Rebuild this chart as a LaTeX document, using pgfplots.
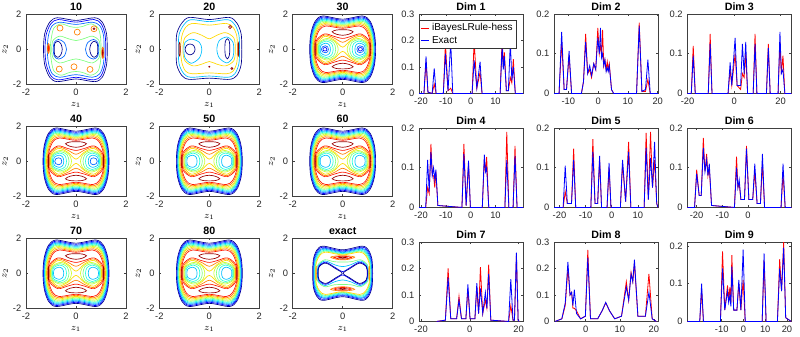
\documentclass[border=0pt]{standalone}
\usepackage{fontspec}
\setmainfont{Liberation Sans}
\usepackage{pgfplots}
\usepackage{pgfplotstable}
\pgfplotsset{compat=1.18}
\definecolor{c1}{rgb}{0,0,0.55}
\definecolor{c2}{rgb}{0,0,1}
\definecolor{c3}{rgb}{0,0.4,1}
\definecolor{c4}{rgb}{0,0.75,1}
\definecolor{c5}{rgb}{0.15,1,0.85}
\definecolor{c6}{rgb}{0.5,1,0.5}
\definecolor{c7}{rgb}{0.8,1,0.2}
\definecolor{c8}{rgb}{1,0.85,0}
\definecolor{c9}{rgb}{1,0.5,0}
\definecolor{c10}{rgb}{1,0.1,0}
\definecolor{c11}{rgb}{0.6,0,0}

\newcommand{\ring}[9]{\addplot[#1,smooth cycle] coordinates {(#2,0) (#3,#4) (#5,#6) (#7,#8) (0,#9) (-#7,#8) (-#5,#6) (-#3,#4) (-#2,0) (-#3,-#4) (-#5,-#6) (-#7,-#8) (0,-#9) (#7,-#8) (#5,-#6) (#3,-#4)};}
\newcommand{\lobes}[9]{\addplot[#1,smooth cycle] coordinates {(#2,0) (#3,#4) (#5,#6) (#7,#8) (#9,0) (#7,-#8) (#5,-#6) (#3,-#4)};
\addplot[#1,smooth cycle] coordinates {(-#2,0) (-#3,#4) (-#5,#6) (-#7,#8) (-#9,0) (-#7,-#8) (-#5,-#6) (-#3,-#4)};}

\newcommand{\ringpanel}{%
\ring{c1}{1.32}{1.27}{0.90}{1.10}{1.60}{0.80}{1.90}{1.72}
\ring{c2}{1.30}{1.25}{0.87}{1.08}{1.55}{0.79}{1.84}{1.66}
\ring{c3}{1.28}{1.23}{0.84}{1.07}{1.50}{0.78}{1.78}{1.60}
\ring{c4}{1.26}{1.21}{0.81}{1.05}{1.45}{0.77}{1.72}{1.54}
\ring{c5}{1.24}{1.19}{0.78}{1.03}{1.40}{0.76}{1.66}{1.48}
\ring{c6}{1.22}{1.17}{0.75}{1.02}{1.35}{0.75}{1.60}{1.42}
\ring{c7}{1.20}{1.15}{0.72}{1.00}{1.30}{0.74}{1.54}{1.37}
\ring{c8}{1.18}{1.13}{0.69}{0.98}{1.25}{0.72}{1.47}{1.32}
\ring{c9}{1.15}{1.10}{0.66}{0.95}{1.18}{0.70}{1.40}{1.26}
\ring{c10}{1.12}{1.07}{0.62}{0.92}{1.12}{0.67}{1.33}{1.20}
\ring{c10}{1.08}{1.04}{0.53}{0.72}{0.88}{0.35}{0.74}{0.62}
\ring{c9}{1.05}{1.01}{0.48}{0.71}{0.82}{0.34}{0.64}{0.40}
\ring{c8}{1.02}{0.98}{0.42}{0.70}{0.74}{0.33}{0.52}{0.12}
\lobes{c7}{1.00}{0.95}{0.40}{0.62}{0.62}{0.30}{0.42}{0.18}
\lobes{c6}{0.97}{0.93}{0.36}{0.63}{0.55}{0.36}{0.38}{0.28}
\lobes{c5}{0.94}{0.90}{0.31}{0.65}{0.47}{0.44}{0.32}{0.38}
\lobes{c4}{0.90}{0.86}{0.24}{0.67}{0.35}{0.53}{0.24}{0.49}
\addplot[c11,smooth cycle] coordinates {(0.42,1.0) (0.25,1.1) (0,1.12) (-0.25,1.1) (-0.42,1.0) (-0.25,0.86) (0,0.8) (0.25,0.86)};
\addplot[c11,smooth cycle] coordinates {(0.42,-1.0) (0.25,-1.1) (0,-1.12) (-0.25,-1.1) (-0.42,-1.0) (-0.25,-0.86) (0,-0.8) (0.25,-0.86)};
\addplot[c11,smooth cycle] coordinates {(1.11,0) (1.105,0.3) (1.10,0.38) (1.095,0.3) (1.09,0) (1.095,-0.3) (1.10,-0.38) (1.105,-0.3)};
\addplot[c11,smooth cycle] coordinates {(-1.11,0) (-1.105,0.3) (-1.10,0.38) (-1.095,0.3) (-1.09,0) (-1.095,-0.3) (-1.10,-0.38) (-1.105,-0.3)};
}

\pgfplotsset{
 every axis/.append style={scale only axis, tick align=inside, major tick length=1.6pt,
   axis line style={black!75, line width=0.4pt}, tick style={black!75, line width=0.4pt},
   tick label style={font=\fontsize{7}{8}\selectfont, text=black!85},
   /pgf/number format/assume math mode=true, /pgf/number format/fixed,
   every axis title shift=0pt,
   title style={font=\bfseries\fontsize{8}{9}\selectfont, at={(0.5,1)}, anchor=base, yshift=3pt},
   label style={font=\fontsize{7.5}{8}\selectfont}},
 cont/.style={width=75pt, height=52.5pt, xmin=-2, xmax=2, ymin=-2, ymax=2,
   xtick={-2,0,2}, ytick={-2,0,2}, xlabel={$z_1$}, ylabel={$z_2$},
   xlabel style={yshift=2pt}, ylabel style={yshift=-3pt},
   every axis plot/.append style={line width=0.5pt}, anchor=north west},
 dens/.style={width=78pt, height=59.6pt, ymin=0, anchor=north west,
   every axis plot/.append style={line width=0.6pt}},
}

% ---------- density data: x, red (iBayesLRule-hess), blue (Exact)
\pgfplotstableread{
x r b
-20.8 0 0
-18.8 0 0
-17.97 0.12 0.14
-17.2 0.005 0.005
-15.5 0 0
-14.66 0.035 0.095
-13.9 0 0
-11.0 0 0
-10.15 0.19 0.15
-9.1 0.01 0.01
-8.02 0.02 0.195
-7.2 0 0
0.6 0 0
1.41 0.20 0.125
2.5 0.02 0.02
3.8 0.08 0.12
4.6 0 0
11.9 0 0
12.7 0.21 0.18
13.15 0.10 0.09
13.6 0.155 0.14
14.4 0.01 0.01
15.2 0.01 0.01
16.0 0.06 0.195
16.6 0.04 0.05
17.2 0.13 0.10
18.0 0 0
21.1 0 0
}\dA
\pgfplotstableread{
x r b
-14.8 0 0
-13.1 0 0
-12.23 0.13 0.155
-11.4 0.01 0.01
-10.6 0.01 0.01
-9.74 0.095 0.107
-8.9 0 0
-5.6 0 0
-4.9 0.03 0.03
-4.18 0.15 0.13
-3.5 0.05 0.05
-2.82 0.06 0.07
-2.2 0.04 0.045
-1.46 0.075 0.075
-0.8 0.06 0.06
-0.1 0.165 0.14
0.4 0.10 0.10
0.8 0.12 0.165
1.15 0.10 0.09
1.5 0.16 0.10
1.9 0.07 0.07
2.28 0.085 0.085
2.7 0.06 0.055
3.07 0.08 0.065
3.4 0.06 0.055
3.75 0.075 0.07
4.5 0.01 0.01
5.2 0 0
12.9 0 0
13.8 0.178 0.17
14.7 0.005 0.005
15.9 0.005 0.01
16.7 0.035 0.085
17.5 0 0
20.1 0 0
}\dB
\pgfplotstableread{
x r b
-20.1 0 0
-18.4 0 0
-17.57 0.12 0.095
-16.7 0 0
-11.1 0 0
-10.29 0.15 0.125
-9.5 0 0
-2.6 0 0
-1.71 0.06 0.078
-1.0 0.02 0.02
0.43 0.10 0.14
1.3 0.02 0.02
2.8 0.01 0.02
3.57 0.05 0.125
4.3 0.04 0.05
5.0 0.10 0.13
5.8 0 0
8.2 0 0
9.0 0.15 0.125
9.8 0 0
13.9 0 0
14.71 0.125 0.115
15.5 0 0
18.9 0 0
19.71 0.13 0.155
20.3 0.05 0.05
21.0 0.095 0.06
21.8 0 0
24.6 0 0
}\dC
\pgfplotstableread{
x r b
-20.8 0 0
-18.1 0 0
-17.32 0.05 0.12
-16.7 0.035 0.04
-15.99 0.16 0.14
-15.45 0.08 0.08
-14.93 0.08 0.10
-14.45 0.05 0.07
-14.0 0.09 0.095
-13.2 0.005 0.005
-3.5 0 0
-2.71 0.16 0.135
-1.8 0.005 0.005
-0.85 0.11 0.118
-0.1 0 0
4.7 0 0
5.52 0.12 0.133
6.0 0.09 0.09
6.46 0.127 0.10
7.3 0 0
13.8 0 0
14.56 0.19 0.12
15.4 0 0
17.1 0 0
17.88 0.155 0.13
18.7 0 0
21.1 0 0
}\dD
\pgfplotstableread{
x r b
-22.1 0 0
-18.6 0 0
-17.81 0.04 0.105
-17.0 0.01 0.01
-15.4 0.01 0.01
-14.58 0.148 0.12
-13.8 0 0
-8.0 0 0
-7.23 0.172 0.14
-6.4 0.01 0.01
-5.4 0.01 0.01
-4.65 0.12 0.13
-3.9 0 0
-1.8 0 0
-1.03 0.10 0.112
-0.3 0 0
3.3 0 0
4.13 0.11 0.12
5.3 0.015 0.015
6.45 0.165 0.14
7.3 0 0
12.4 0 0
13.16 0.188 0.15
14.0 0.02 0.02
14.84 0.19 0.125
15.6 0.05 0.05
16.39 0.12 0.165
17.2 0.01 0.01
17.7 0 0
}\dE
\pgfplotstableread{
x r b
-23.6 0 0
-20.8 0 0
-19.97 0.095 0.085
-19.0 0.03 0.03
-18.2 0.03 0.03
-17.39 0.175 0.15
-16.75 0.09 0.09
-16.1 0.135 0.12
-15.6 0.08 0.08
-15.07 0.10 0.11
-14.2 0.005 0.005
-5.3 0 0
-4.49 0.128 0.10
-3.95 0.05 0.05
-3.46 0.06 0.07
-2.8 0.02 0.02
-1.4 0.02 0.02
-0.62 0.155 0.148
0.3 0.02 0.02
1.8 0.02 0.02
2.6 0.09 0.11
3.5 0.01 0.01
4.8 0.01 0.01
5.57 0.11 0.135
6.4 0 0
12.8 0 0
13.57 0.085 0.11
14.4 0 0
16.8 0 0
}\dF
\pgfplotstableread{
x r b
-13.6 0 0
-10.0 0.005 0.005
-8.88 0.20 0.165
-7.8 0.01 0.01
-5.4 0.01 0.01
-4.42 0.095 0.08
-3.4 0.01 0.01
-1.6 0.01 0.01
-0.77 0.12 0.14
0.1 0.01 0.01
2.1 0.01 0.01
2.88 0.13 0.145
3.6 0.03 0.03
4.36 0.205 0.125
5.3 0.03 0.03
6.39 0.08 0.11
7.0 0.05 0.05
7.74 0.215 0.18
8.6 0.005 0.005
15.9 0 0
16.8 0.06 0.16
17.7 0.005 0.005
18.3 0.005 0.005
19.1 0.25 0.26
19.8 0.005 0.005
20.3 0 0
}\dG
\pgfplotstableread{
x r b
-9.0 0 0
-7.0 0.01 0.01
-6.0 0.06 0.07
-5.22 0.20 0.225
-4.6 0.10 0.10
-4.13 0.11 0.11
-3.75 0.05 0.06
-3.34 0.05 0.12
-2.7 0.04 0.03
-1.5 0.01 0.01
-0.1 0.02 0.02
0.62 0.27 0.24
1.4 0.01 0.01
3.5 0.01 0.01
4.8 0.04 0.04
5.87 0.07 0.072
7.0 0.04 0.04
8.5 0.01 0.01
10.5 0.02 0.02
11.91 0.15 0.13
12.6 0.08 0.08
13.3 0.185 0.18
13.8 0.15 0.15
14.29 0.22 0.233
15.3 0.02 0.02
17.5 0.02 0.02
18.54 0.18 0.11
19.5 0.01 0.01
20.7 0 0
}\dH
\pgfplotstableread{
x r b
-25.8 0 0
-20.1 0 0
-19.24 0.08 0.10
-18.4 0 0
-10.6 0 0
-9.62 0.185 0.14
-8.6 0.03 0.03
-7.33 0.095 0.08
-6.8 0.06 0.05
-6.26 0.09 0.07
-5.8 0.05 0.04
-5.34 0.175 0.145
-4.5 0.03 0.03
-3.0 0.03 0.03
-2.14 0.10 0.11
-1.2 0.03 0.03
-0.15 0.11 0.19
0.8 0 0
8.6 0 0
9.47 0.16 0.18
10.4 0 0
15.6 0 0
16.64 0.165 0.14
17.5 0.08 0.08
18.47 0.21 0.195
19.4 0.01 0.01
22 0 0
}\dI

\begin{document}
\begin{tikzpicture}
\path[use as bounding box] (0pt,0pt) rectangle (600pt,-252pt);

% ---------------- contour panels
\begin{axis}[cont, at={(19.5pt,-10.7pt)}, title={10}]
\addplot[c1,smooth cycle] coordinates {(1.25,0) (1.22,0.9) (1.05,1.55) (0.75,1.8) (0,1.65) (-0.75,1.8) (-1.05,1.55) (-1.25,0.9) (-1.3,0) (-1.25,-0.9) (-1.05,-1.6) (-0.75,-1.85) (0,-1.7) (0.75,-1.85) (1.05,-1.6) (1.22,-0.9)};
\addplot[c2,smooth cycle] coordinates {(1.19,0) (1.16,0.85) (1.0,1.47) (0.71,1.7) (0,1.55) (-0.71,1.7) (-1.0,1.47) (-1.19,0.85) (-1.24,0) (-1.19,-0.85) (-1.0,-1.52) (-0.71,-1.75) (0,-1.6) (0.71,-1.75) (1.0,-1.52) (1.16,-0.85)};
\addplot[c3,smooth cycle] coordinates {(1.12,0) (1.1,0.8) (0.95,1.35) (0.65,1.55) (0,1.42) (-0.65,1.55) (-0.95,1.35) (-1.1,0.8) (-1.15,0) (-1.1,-0.8) (-0.95,-1.4) (-0.65,-1.6) (0,-1.45) (0.65,-1.6) (0.95,-1.4) (1.1,-0.8)};
\addplot[c6,smooth cycle] coordinates {(1.0,0) (0.98,0.7) (0.88,1.22) (0.6,1.45) (0.25,1.3) (0,1.25) (-0.25,1.3) (-0.6,1.45) (-0.88,1.22) (-0.98,0.7) (-1.03,0) (-0.98,-0.7) (-0.88,-1.25) (-0.6,-1.48) (-0.25,-1.32) (0,-1.27) (0.25,-1.32) (0.6,-1.48) (0.88,-1.25) (0.98,-0.7)};
\addplot[c6,smooth cycle] coordinates {(0.96,0) (0.92,0.5) (0.65,0.75) (0.3,0.6) (0,0.5) (-0.3,0.6) (-0.65,0.75) (-0.92,0.5) (-0.97,0) (-0.92,-0.5) (-0.65,-0.78) (-0.3,-0.65) (0,-0.55) (0.3,-0.65) (0.65,-0.78) (0.92,-0.5)};
\lobes{c3}{0.91}{0.87}{0.40}{0.70}{0.56}{0.48}{0.40}{0.38}
\lobes{c1}{0.87}{0.85}{0.33}{0.72}{0.46}{0.60}{0.30}{0.55}
\addplot[c9,smooth cycle] coordinates {(-0.52,1.21) (-0.555,1.33) (-0.64,1.38) (-0.725,1.33) (-0.76,1.21) (-0.725,1.09) (-0.64,1.04) (-0.555,1.09)};
\addplot[c9,smooth cycle] coordinates {(0.17,0.98) (0.135,1.1) (0.05,1.15) (-0.035,1.1) (-0.07,0.98) (-0.035,0.86) (0.05,0.81) (0.135,0.86)};
\addplot[c9,smooth cycle] coordinates {(0.84,1.17) (0.805,1.29) (0.72,1.34) (0.635,1.29) (0.6,1.17) (0.635,1.05) (0.72,1.0) (0.805,1.05)};
\addplot[c9,smooth cycle] coordinates {(-0.55,-1.13) (-0.585,-1.01) (-0.67,-0.96) (-0.755,-1.01) (-0.79,-1.13) (-0.755,-1.25) (-0.67,-1.3) (-0.585,-1.25)};
\addplot[c9,smooth cycle] coordinates {(0.04,-1.0) (0.005,-0.88) (-0.08,-0.83) (-0.165,-0.88) (-0.2,-1.0) (-0.165,-1.12) (-0.08,-1.17) (0.005,-1.12)};
\addplot[c9,smooth cycle] coordinates {(0.68,-1.15) (0.645,-1.03) (0.56,-0.98) (0.475,-1.03) (0.44,-1.15) (0.475,-1.27) (0.56,-1.32) (0.645,-1.27)};
\addplot[c11,smooth cycle] coordinates {(0.76,1.17) (0.72,1.22) (0.68,1.17) (0.72,1.12)};
\addplot[c9,smooth cycle] coordinates {(-1.06,0.05) (-1.07,0.25) (-1.1,0.33) (-1.13,0.25) (-1.14,0.05) (-1.13,-0.15) (-1.1,-0.23) (-1.07,-0.15)};
\addplot[c10,smooth cycle] coordinates {(-1.08,0.05) (-1.1,0.2) (-1.12,0.05) (-1.1,-0.1)};
\addplot[c9,smooth cycle] coordinates {(1.11,-0.2) (1.1,0.05) (1.07,0.12) (1.04,0.05) (1.03,-0.2) (1.04,-0.45) (1.07,-0.52) (1.1,-0.45)};
\addplot[c10,smooth cycle] coordinates {(1.09,-0.2) (1.07,0.0) (1.05,-0.2) (1.07,-0.4)};
\addplot[c11,smooth cycle] coordinates {(1.08,-0.2) (1.07,-0.1) (1.06,-0.2) (1.07,-0.3)};
\end{axis}

\begin{axis}[cont, at={(119.5pt,-10.7pt)}, title={20}]
\addplot[c1,smooth cycle] coordinates {(1.3,0) (1.27,0.9) (1.1,1.5) (0.8,1.82) (0,1.7) (-0.8,1.82) (-1.1,1.5) (-1.3,0.9) (-1.33,0) (-1.3,-0.9) (-1.1,-1.5) (-0.8,-1.72) (0,-1.65) (0.8,-1.72) (1.1,-1.5) (1.27,-0.9)};
\addplot[c4,smooth cycle] coordinates {(1.21,0) (1.18,0.84) (1.02,1.4) (0.74,1.69) (0,1.58) (-0.74,1.69) (-1.02,1.4) (-1.21,0.84) (-1.24,0) (-1.21,-0.84) (-1.02,-1.4) (-0.74,-1.6) (0,-1.53) (0.74,-1.6) (1.02,-1.4) (1.18,-0.84)};
\addplot[c8,smooth cycle] coordinates {(1.12,0) (1.1,0.75) (0.95,1.25) (0.68,1.48) (0,1.38) (-0.68,1.48) (-0.95,1.25) (-1.1,0.75) (-1.15,0) (-1.1,-0.75) (-0.95,-1.25) (-0.68,-1.4) (0,-1.35) (0.68,-1.4) (0.95,-1.25) (1.1,-0.75)};
\addplot[c8,smooth cycle] coordinates {(1.04,0) (0.98,0.65) (0.65,0.95) (0.3,0.8) (0,0.6) (-0.3,0.8) (-0.65,0.95) (-0.98,0.65) (-1.06,0) (-0.98,-0.65) (-0.65,-0.95) (-0.3,-0.85) (0,-0.7) (0.3,-0.85) (0.65,-0.95) (0.98,-0.65)};
\addplot[c4,smooth cycle] coordinates {(-0.3,0) (-0.4,0.4) (-0.72,0.58) (-0.97,0.4) (-1.02,0) (-0.97,-0.5) (-0.72,-0.8) (-0.4,-0.5)};
\addplot[c4,smooth cycle] coordinates {(0.3,0) (0.4,0.5) (0.7,0.7) (0.93,0.45) (0.98,0) (0.93,-0.5) (0.7,-0.78) (0.4,-0.5)};
\addplot[c1,smooth cycle] coordinates {(-0.57,0) (-0.63,0.22) (-0.77,0.3) (-0.91,0.22) (-0.97,0) (-0.91,-0.22) (-0.77,-0.32) (-0.63,-0.22)};
\addplot[c1,smooth cycle] coordinates {(0.82,0.05) (0.8,0.45) (0.72,0.6) (0.64,0.45) (0.62,0.05) (0.64,-0.35) (0.72,-0.55) (0.8,-0.35)};
\addplot[c11,smooth cycle] coordinates {(0.89,1.27) (0.83,1.36) (0.77,1.27) (0.83,1.18)};
\addplot[c11,smooth cycle] coordinates {(0.025,-1.0) (0,-0.97) (-0.025,-1.0) (0,-1.03)};
\addplot[c11,smooth cycle] coordinates {(0.94,-1.1) (0.9,-1.04) (0.86,-1.1) (0.9,-1.16)};
\addplot[c11,smooth cycle] coordinates {(-1.165,0) (-1.17,0.3) (-1.19,0.38) (-1.21,0.3) (-1.215,0) (-1.21,-0.3) (-1.19,-0.38) (-1.17,-0.3)};
\addplot[c11,smooth cycle] coordinates {(1.18,0) (1.175,0.3) (1.16,0.38) (1.145,0.3) (1.14,0) (1.145,-0.3) (1.16,-0.38) (1.175,-0.3)};
\end{axis}

\begin{axis}[cont, at={(219.5pt,-10.7pt)}, title={30}]
\ringpanel
\lobes{c3}{0.85}{0.81}{0.14}{0.69}{0.20}{0.60}{0.14}{0.57}
\lobes{c2}{0.79}{0.77}{0.07}{0.70}{0.10}{0.65}{0.07}{0.63}
\end{axis}

\begin{axis}[cont, at={(19.5pt,-94.7pt)}, title={40}]
\ringpanel
\lobes{c3}{0.85}{0.81}{0.14}{0.69}{0.20}{0.60}{0.14}{0.57}
\end{axis}
\begin{axis}[cont, at={(119.5pt,-94.7pt)}, title={50}]
\ringpanel
\end{axis}
\begin{axis}[cont, at={(219.5pt,-94.7pt)}, title={60}]
\ringpanel
\end{axis}
\begin{axis}[cont, at={(19.5pt,-178.7pt)}, title={70}]
\ringpanel
\end{axis}
\begin{axis}[cont, at={(119.5pt,-178.7pt)}, title={80}]
\ringpanel
\end{axis}

\begin{axis}[cont, at={(219.5pt,-178.7pt)}, title={exact}]
\ring{c1}{1.20}{1.17}{0.80}{1.03}{1.33}{0.78}{1.55}{1.34}
\ring{c2}{1.18}{1.15}{0.77}{1.01}{1.28}{0.77}{1.49}{1.28}
\ring{c3}{1.16}{1.13}{0.74}{0.99}{1.23}{0.75}{1.43}{1.23}
\ring{c4}{1.14}{1.11}{0.71}{0.97}{1.18}{0.74}{1.38}{1.18}
\ring{c5}{1.12}{1.09}{0.68}{0.95}{1.13}{0.72}{1.32}{1.13}
\ring{c6}{1.10}{1.07}{0.65}{0.93}{1.08}{0.70}{1.27}{1.09}
\ring{c8}{1.08}{1.05}{0.62}{0.91}{1.03}{0.68}{1.21}{1.05}
\ring{c6}{1.03}{0.99}{0.48}{0.715}{0.77}{0.34}{0.66}{0.64}
\ring{c4}{1.01}{0.97}{0.44}{0.70}{0.70}{0.31}{0.48}{0.38}
\ring{c2}{0.995}{0.95}{0.40}{0.68}{0.63}{0.29}{0.32}{0.10}
\lobes{c1}{0.98}{0.94}{0.38}{0.67}{0.58}{0.28}{0.26}{0.02}
\addplot[c9,smooth cycle] coordinates {(0.48,0.92) (0.25,0.99) (0,1.0) (-0.25,0.99) (-0.48,0.92) (-0.25,0.8) (0,0.77) (0.25,0.8)};
\addplot[c10,smooth cycle] coordinates {(0.35,0.9) (0.18,0.955) (0,0.965) (-0.18,0.955) (-0.35,0.9) (-0.18,0.835) (0,0.81) (0.18,0.835)};
\addplot[c11,smooth cycle] coordinates {(0.15,0.89) (0,0.925) (-0.15,0.89) (0,0.86)};
\addplot[c9,smooth cycle] coordinates {(0.48,-0.92) (0.25,-0.99) (0,-1.0) (-0.25,-0.99) (-0.48,-0.92) (-0.25,-0.8) (0,-0.77) (0.25,-0.8)};
\addplot[c10,smooth cycle] coordinates {(0.35,-0.9) (0.18,-0.955) (0,-0.965) (-0.18,-0.955) (-0.35,-0.9) (-0.18,-0.835) (0,-0.81) (0.18,-0.835)};
\addplot[c11,smooth cycle] coordinates {(0.15,-0.89) (0,-0.925) (-0.15,-0.89) (0,-0.86)};
\addplot[c9,smooth cycle] coordinates {(1.07,0) (1.065,0.3) (1.06,0.4) (1.055,0.3) (1.05,0) (1.055,-0.3) (1.06,-0.4) (1.065,-0.3)};
\addplot[c9,smooth cycle] coordinates {(-1.07,0) (-1.065,0.3) (-1.06,0.4) (-1.055,0.3) (-1.05,0) (-1.055,-0.3) (-1.06,-0.4) (-1.065,-0.3)};
\end{axis}

% ---------------- density panels
\begin{axis}[dens, at={(314.25pt,-10.5pt)}, title={Dim 1}, xmin=-20.8, xmax=21.1, ymax=0.3,
  xtick={-20,-10,0,10}, ytick={0,0.1,0.2,0.3},
  legend style={at={(0,0.925)}, anchor=north west, draw=black!80, fill=white,
   font=\fontsize{7.5}{8}\selectfont, inner xsep=1pt, inner ysep=0.5pt, row sep=-1.5pt, cells={anchor=west}},
  legend image code/.code={\draw[#1,line width=0.6pt] (0pt,0pt) -- (6pt,0pt);}]
\addplot[red] table[x=x,y=r]{\dA};
\addplot[blue] table[x=x,y=b]{\dA};
\legend{iBayesLRule-hess,Exact}
\end{axis}
\begin{axis}[dens, at={(415.5pt,-10.5pt)}, title={Dim 2}, xmin=-14.8, xmax=20.1, ymax=0.2,
  xtick={-10,0,10,20}, ytick={0,0.1,0.2}]
\addplot[red] table[x=x,y=r]{\dB};
\addplot[blue] table[x=x,y=b]{\dB};
\end{axis}
\begin{axis}[dens, at={(515.5pt,-10.5pt)}, title={Dim 3}, xmin=-20.1, xmax=24.6, ymax=0.2,
  xtick={-20,0,20}, ytick={0,0.1,0.2}]
\addplot[red] table[x=x,y=r]{\dC};
\addplot[blue] table[x=x,y=b]{\dC};
\end{axis}

\begin{axis}[dens, at={(314.25pt,-96pt)}, title={Dim 4}, xmin=-20.8, xmax=21.1, ymax=0.2,
  xtick={-20,-10,0,10}, ytick={0,0.1,0.2}]
\addplot[red] table[x=x,y=r]{\dD};
\addplot[blue] table[x=x,y=b]{\dD};
\end{axis}
\begin{axis}[dens, at={(415.5pt,-96pt)}, title={Dim 5}, xmin=-22.1, xmax=17.7, ymax=0.2,
  xtick={-20,-10,0,10}, ytick={0,0.1,0.2}]
\addplot[red] table[x=x,y=r]{\dE};
\addplot[blue] table[x=x,y=b]{\dE};
\end{axis}
\begin{axis}[dens, at={(515.5pt,-96pt)}, title={Dim 6}, xmin=-23.6, xmax=16.8, ymax=0.2,
  xtick={-20,-10,0}, ytick={0,0.1,0.2}]
\addplot[red] table[x=x,y=r]{\dF};
\addplot[blue] table[x=x,y=b]{\dF};
\end{axis}

\begin{axis}[dens, at={(314.25pt,-181.5pt)}, title={Dim 7}, xmin=-20.8, xmax=21.8, ymax=0.3,
  xtick={-20,0,20}, ytick={0,0.1,0.2,0.3}]
\addplot[red] table[x=x,y=r]{\dG};
\addplot[blue] table[x=x,y=b]{\dG};
\end{axis}
\begin{axis}[dens, at={(415.5pt,-181.5pt)}, title={Dim 8}, xmin=-9.3, xmax=21.2, ymax=0.3,
  xtick={0,10,20}, ytick={0,0.1,0.2,0.3}]
\addplot[red] table[x=x,y=r]{\dH};
\addplot[blue] table[x=x,y=b]{\dH};
\end{axis}
\begin{axis}[dens, at={(515.5pt,-181.5pt)}, title={Dim 9}, xmin=-25.8, xmax=22, ymax=0.21,
  xtick={-10,0,10,20}, ytick={0,0.1,0.2}]
\addplot[red] table[x=x,y=r]{\dI};
\addplot[blue] table[x=x,y=b]{\dI};
\end{axis}
\end{tikzpicture}
\end{document}
